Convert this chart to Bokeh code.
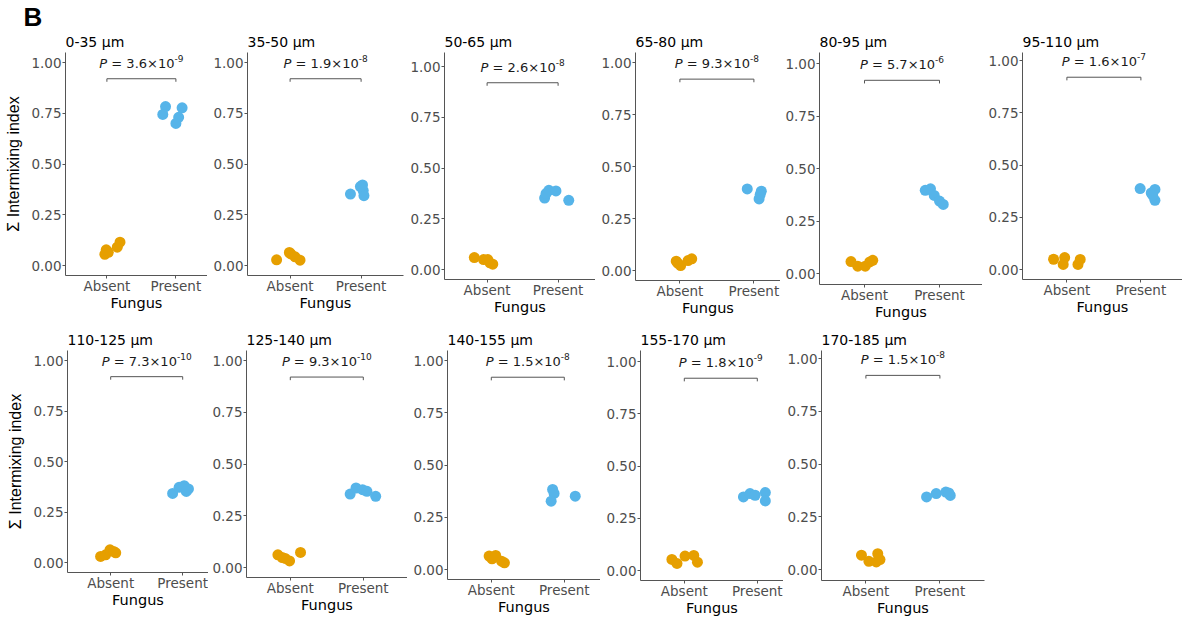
from bokeh.plotting import figure
from bokeh.layouts import row, column
from bokeh.models import Range1d, FixedTicker, NumeralTickFormatter, Title
from bokeh.embed import file_html
from bokeh.resources import INLINE
from bokeh.core.properties import value

# ---------------- data ----------------
panel_titles = ["0-35 µm", "35-50 µm", "50-65 µm", "65-80 µm", "80-95 µm", "95-110 µm",
                "110-125 µm", "125-140 µm", "140-155 µm", "155-170 µm", "170-185 µm"]
categories = ["Absent", "Present"]
y_ticks = [0.0, 0.25, 0.5, 0.75, 1.0]
p_mantissa = ["3.6", "1.9", "2.6", "9.3", "5.7", "1.6", "7.3", "9.3", "1.5", "1.8", "1.5"]
p_exponent = ["-9", "-8", "-8", "-8", "-6", "-7", "-10", "-10", "-8", "-9", "-8"]

absent_values = [
    [0.055, 0.065, 0.077, 0.090, 0.115],
    [0.028, 0.064, 0.057, 0.043, 0.026],
    [0.059, 0.049, 0.049, 0.033, 0.026],
    [0.045, 0.035, 0.024, 0.048, 0.056],
    [0.057, 0.035, 0.035, 0.055, 0.063],
    [0.049, 0.057, 0.024, 0.024, 0.048],
    [0.030, 0.038, 0.063, 0.048, 0.055],
    [0.061, 0.048, 0.044, 0.032, 0.073],
    [0.064, 0.051, 0.067, 0.040, 0.032],
    [0.053, 0.034, 0.069, 0.072, 0.040],
    [0.068, 0.039, 0.036, 0.075, 0.047],
]
absent_jitter = [
    [-0.03, 0.02, -0.01, 0.15, 0.19],
    [-0.19, -0.01, 0.01, 0.07, 0.14],
    [-0.18, -0.05, 0.01, 0.04, 0.08],
    [-0.05, -0.03, 0.01, 0.11, 0.16],
    [-0.18, -0.09, 0.01, 0.07, 0.11],
    [-0.18, -0.03, -0.05, 0.15, 0.18],
    [-0.14, -0.07, -0.01, 0.07, 0.04],
    [-0.17, -0.11, -0.07, -0.01, 0.14],
    [-0.03, 0.01, 0.06, 0.14, 0.18],
    [-0.17, -0.10, 0.01, 0.13, 0.18],
    [-0.06, 0.04, 0.14, 0.16, 0.19],
]
present_values = [
    [0.783, 0.744, 0.777, 0.730, 0.700],
    [0.352, 0.397, 0.369, 0.344, 0.389],
    [0.352, 0.390, 0.387, 0.341, 0.374],
    [0.392, 0.381, 0.344, 0.365],
    [0.396, 0.403, 0.372, 0.345, 0.329],
    [0.387, 0.366, 0.383, 0.331, 0.355],
    [0.342, 0.372, 0.380, 0.364, 0.352],
    [0.355, 0.384, 0.376, 0.368, 0.344],
    [0.383, 0.364, 0.327, 0.351],
    [0.352, 0.368, 0.360, 0.373, 0.333],
    [0.344, 0.360, 0.367, 0.351, 0.363],
]
present_jitter = [
    [-0.15, -0.19, 0.09, 0.04, 0.00],
    [-0.15, 0.02, 0.03, 0.04, -0.01],
    [-0.19, -0.13, -0.03, 0.15, -0.17],
    [-0.09, 0.10, 0.07, 0.085],
    [-0.19, -0.12, -0.07, 0.00, 0.05],
    [-0.01, 0.14, 0.19, 0.19, 0.16],
    [-0.14, -0.05, 0.02, 0.08, 0.05],
    [-0.18, -0.10, -0.01, 0.05, 0.17],
    [-0.16, -0.14, -0.18, 0.15],
    [-0.19, -0.10, -0.03, 0.11, 0.11],
    [-0.18, -0.05, 0.08, 0.14, 0.12],
]

# ---------------- styling / geometry (window pixels) ----------------
ORANGE = "#E69F00"
BLUE = "#56B4E9"
FONT = "DejaVu Sans"
YFONT = "Liberation Sans"
AXIS_GREY = "#4D4D4D"
LINE_GREY = "#555555"

# (axis x, pixel of y=1, pixel of y=0, pixels per category unit)
top_geom = [(65, 62, 265, 69), (247, 62, 265, 71), (444, 66, 269, 71),
            (635, 62, 270, 74), (819, 63, 273, 75), (1022, 60, 269, 74)]
top_left = [0, 207, 404, 595, 780, 982, 1182]
bot_geom = [(67, 358, 560, 72), (246, 358, 565, 73), (447, 358, 567, 73),
            (640, 359, 568, 73), (821, 356, 567, 74)]
bot_left = [0, 208, 407, 600, 783, 1000]
ROW1 = (0, 320, 52)     # row top, row bottom, frame top
ROW2 = (320, 616, 348)

# DejaVu Sans advance widths (em)
CHAR_W = {"0": .636, "1": .636, "2": .636, "3": .636, "4": .636, "5": .636, "6": .636,
          "7": .636, "8": .636, "9": .636, ".": .318, " ": .318, "=": .838, "×": .838,
          "P": .603, "-": .361}


def text_width(s, size):
    return sum(CHAR_W.get(c, 0.636) for c in s) * size


def make_panel(i, geom, left, right, rows, first):
    ax, y1, y0, u = geom
    rtop, rbot, T = rows
    uy = y0 - y1
    B = round(y0 + 0.05 * uy)
    fh = B - T
    y_end = 1 + (y1 - T) / uy
    y_start = -(B - y0) / uy
    fw = min(round(2.2 * u), right - ax)
    xend = 0.4 + fw / u
    p = figure(frame_width=fw, frame_height=fh,
               min_border_left=ax - left, min_border_right=right - ax - fw,
               min_border_top=T - rtop, min_border_bottom=rbot - B,
               x_range=Range1d(0.4, xend), y_range=Range1d(y_start, y_end),
               output_backend="svg", toolbar_location=None, title=None)
    p.outline_line_color = None
    p.background_fill_color = "white"
    p.border_fill_color = "white"
    p.xgrid.visible = False
    p.ygrid.visible = False

    p.add_layout(Title(text=panel_titles[i], text_font=FONT, text_font_size="14px",
                       text_font_style="normal", text_color="black", align="left",
                       offset=0, standoff=5), "above")
    if first and i == 0:
        p.add_layout(Title(text="B", text_font="Liberation Sans", text_font_size="26px",
                           text_font_style="bold", text_color="black", align="left",
                           offset=-42, standoff=-4), "above")

    for axis in (p.xaxis[0], p.yaxis[0]):
        axis.axis_line_color = LINE_GREY
        axis.axis_line_width = 1
        axis.major_tick_line_color = LINE_GREY
        axis.major_tick_out = 3
        axis.major_tick_in = 0
        axis.minor_tick_line_color = None
        axis.major_label_text_font = FONT
        axis.major_label_text_font_size = "13.5px"
        axis.major_label_text_color = AXIS_GREY
        axis.axis_label_text_font_style = "normal"
        axis.axis_label_text_color = "black"

    p.xaxis.axis_label_text_font = FONT
    p.xaxis.axis_label_text_font_size = "14.5px"
    p.yaxis.axis_label_text_font = YFONT
    p.yaxis.axis_label_text_font_size = "16px"

    p.yaxis.major_label_standoff = 1
    p.xaxis.major_label_standoff = -1
    p.yaxis.ticker = FixedTicker(ticks=y_ticks)
    p.yaxis.formatter = NumeralTickFormatter(format="0.00")
    p.xaxis.ticker = FixedTicker(ticks=[1, 2])
    p.xaxis.major_label_overrides = {1: categories[0], 2: categories[1]}
    p.xaxis.axis_label = "Fungus"
    p.xaxis.axis_label_standoff = -2
    if first:
        p.yaxis.axis_label = "Σ Intermixing index"
        p.yaxis.axis_label_standoff = 6

    # significance bracket
    p.multi_line(xs=[[1, 1, 2, 2]], ys=[[0.905, 0.92, 0.92, 0.905]],
                 line_color=LINE_GREY, line_width=1)
    main = "= " + p_mantissa[i] + "×10"
    exp = p_exponent[i]
    wP = text_width("P", 13)
    wS = text_width(" ", 13)
    wM = text_width(main, 13)
    wE = text_width(exp, 9)
    start = -(wP + wS + wM + wE) / 2
    ty = 0.995
    p.text(x=[1.5], y=[ty], text=["P"], x_offset=start, text_font=value(FONT),
           text_font_size="13px", text_font_style="italic", text_align="left",
           text_baseline="alphabetic", text_color="#1a1a1a")
    p.text(x=[1.5], y=[ty], text=[main], x_offset=start + wP + wS, text_font=value(FONT),
           text_font_size="13px", text_align="left",
           text_baseline="alphabetic", text_color="#1a1a1a")
    p.text(x=[1.5], y=[ty], text=[exp], x_offset=start + wP + wS + wM, y_offset=-5,
           text_font=value(FONT), text_font_size="9px", text_align="left",
           text_baseline="alphabetic", text_color="#1a1a1a")

    # points
    ab_x = [1 + d for d in absent_jitter[i]]
    pr_x = [2 + d for d in present_jitter[i]]
    p.scatter(ab_x, absent_values[i], size=11, fill_color=ORANGE, line_color=None)
    p.scatter(pr_x, present_values[i], size=11, fill_color=BLUE, line_color=None)
    return p


top_figs = []
for k in range(6):
    top_figs.append(make_panel(k, top_geom[k], top_left[k], top_left[k + 1], ROW1, k == 0))
bot_figs = []
for k in range(5):
    bot_figs.append(make_panel(6 + k, bot_geom[k], bot_left[k], bot_left[k + 1], ROW2, k == 0))

layout = column(row(*top_figs, spacing=0), row(*bot_figs, spacing=0), spacing=0)

with open("out.html", "w") as f:
    f.write(file_html(layout, INLINE))
